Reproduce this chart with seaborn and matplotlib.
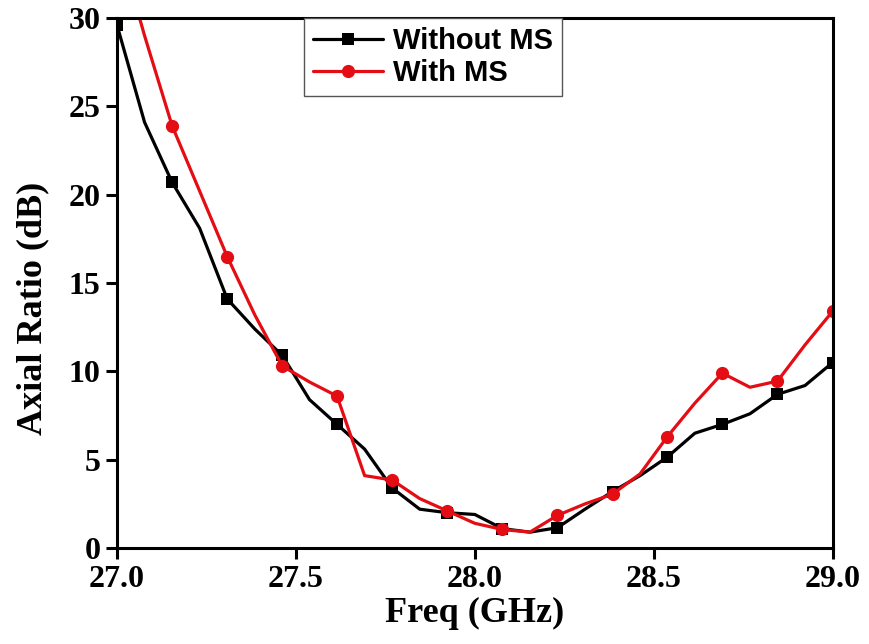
import numpy as np
import matplotlib
matplotlib.use("Agg")
import matplotlib.pyplot as plt
import pandas as pd
import seaborn as sns

# frequency samples (GHz), markers drawn on every other sample
freq = [27.000, 27.077, 27.154, 27.231, 27.308, 27.385, 27.462, 27.538, 27.615,
        27.692, 27.769, 27.846, 27.923, 28.000, 28.077, 28.154, 28.231, 28.308,
        28.385, 28.462, 28.538, 28.615, 28.692, 28.769, 28.846, 28.923, 29.000]

without_ms = [29.6, 24.1, 20.7, 18.1, 14.1, 12.4, 10.9, 8.4, 7.0,
              5.6, 3.4, 2.2, 2.0, 1.9, 1.1, 0.9, 1.15, 2.2,
              3.2, 4.1, 5.15, 6.5, 7.0, 7.6, 8.7, 9.2, 10.5]

with_ms = [34.5, 29.0, 23.9, 20.2, 16.5, 13.2, 10.3, 9.4, 8.6,
           4.1, 3.85, 2.8, 2.1, 1.4, 1.05, 0.9, 1.85, 2.5,
           3.05, 4.2, 6.3, 8.2, 9.9, 9.1, 9.45, 11.5, 13.4]

sns.set_style("ticks")
plt.rcParams['font.family'] = ['Liberation Serif', 'DejaVu Serif']
plt.rcParams['text.color'] = 'black'
plt.rcParams['axes.labelcolor'] = 'black'

df = pd.DataFrame({"freq": freq, "without": without_ms, "with": with_ms})

fig = plt.figure(figsize=(8.7, 6.44), dpi=100)
ax = fig.add_axes([0.1345, 0.149, 0.8225, 0.823])

sns.lineplot(data=df, x="freq", y="without", ax=ax, color="black", lw=2.3,
             marker="s", markersize=9, markeredgewidth=0, markevery=2,
             label="Without MS")
sns.lineplot(data=df, x="freq", y="with", ax=ax, color="#e50d14", lw=2.3,
             marker="o", markersize=9.5, markeredgewidth=0, markevery=2,
             label="With MS")

ax.set_xlim(27.0, 29.0)
ax.set_ylim(0, 30)
ax.set_xticks([27.0, 27.5, 28.0, 28.5, 29.0])
ax.set_yticks([0, 5, 10, 15, 20, 25, 30])
ax.set_xticklabels(["27.0", "27.5", "28.0", "28.5", "29.0"])

for side in ["top", "right", "bottom", "left"]:
    ax.spines[side].set_visible(True)
    ax.spines[side].set_linewidth(2.2)
    ax.spines[side].set_color("black")
ax.tick_params(direction="out", length=8, width=2.2, labelsize=23,
               colors="black", pad=4)
for lab in ax.get_xticklabels() + ax.get_yticklabels():
    lab.set_fontweight("bold")

ax.set_xlabel("Freq (GHz)", fontsize=26, fontweight="bold", labelpad=2,
              color="black")
ax.set_ylabel("Axial Ratio (dB)", fontsize=26, fontweight="bold", color="black")
ax.yaxis.set_label_coords(-0.095, 0.453)

leg = ax.legend(loc="upper left", bbox_to_anchor=(0.262, 1.0), borderaxespad=0,
                fancybox=False, framealpha=1, edgecolor="#555555",
                handlelength=2.4, handletextpad=0.35, borderpad=0.3,
                labelspacing=0.15,
                prop={"family": "Liberation Sans", "weight": "bold", "size": 21})
leg.get_frame().set_linewidth(1.0)
for t in leg.get_texts():
    t.set_color("black")

fig.savefig("out.png", dpi=100)
